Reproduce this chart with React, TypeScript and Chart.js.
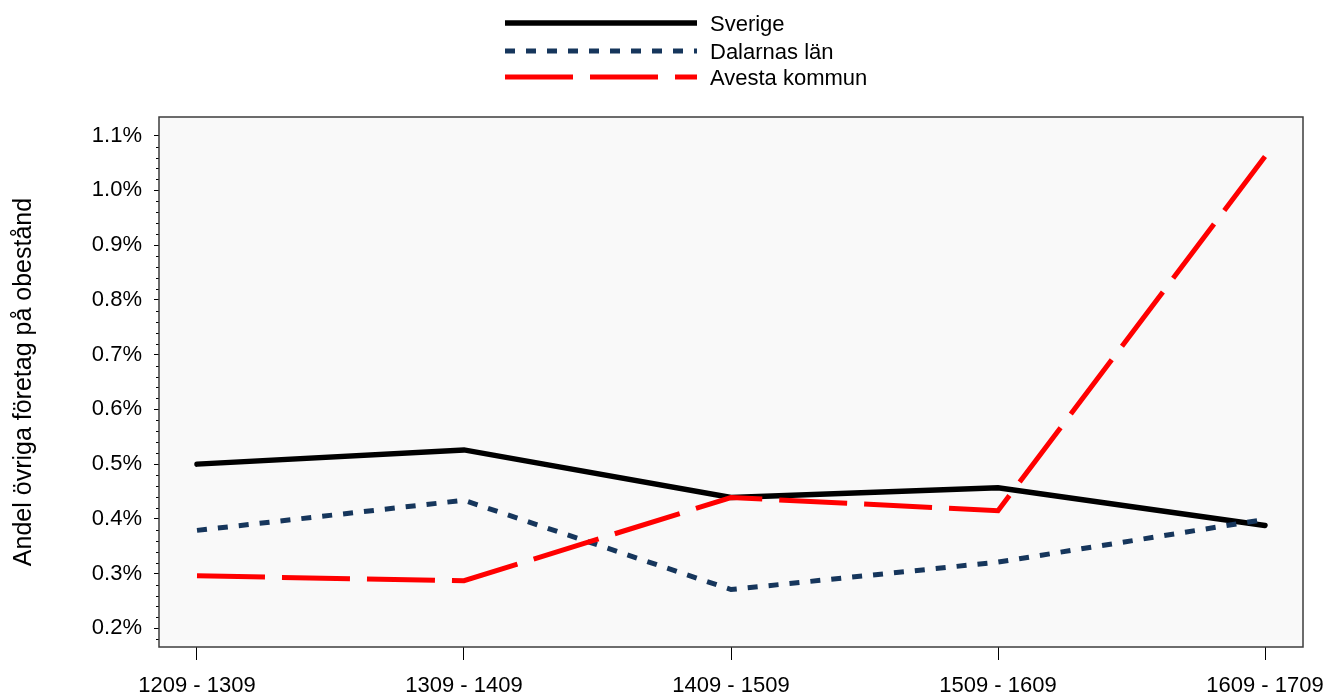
import React, { useEffect, useRef } from "react";
import { Chart, registerables } from "chart.js";

Chart.register(...registerables);

const categories = ["1209 - 1309", "1309 - 1409", "1409 - 1509", "1509 - 1609", "1609 - 1709"];
const sverige = [0.5, 0.526, 0.439, 0.457, 0.388];
const dalarna = [0.379, 0.434, 0.271, 0.321, 0.399];
const avesta = [0.296, 0.287, 0.439, 0.415, 1.062];
const yTicks = [0.2, 0.3, 0.4, 0.5, 0.6, 0.7, 0.8, 0.9, 1.0, 1.1];
const seriesNames = ["Sverige", "Dalarnas län", "Avesta kommun"];

const FONT = "'Liberation Sans', Arial, sans-serif";
const COL_BLACK = "#000000";
const COL_NAVY = "#16365C";
const COL_RED = "#FF0000";

const styles = [
  { color: COL_BLACK, width: 5.5, dash: [] as number[], cap: "round" as CanvasLineCap },
  { color: COL_NAVY, width: 5, dash: [10, 11], cap: "butt" as CanvasLineCap },
  { color: COL_RED, width: 5, dash: [68, 17], cap: "butt" as CanvasLineCap },
];

const plotPlugin = {
  id: "plotDecor",
  beforeDatasetsDraw(chart: any) {
    const { ctx, chartArea } = chart;
    ctx.save();
    ctx.fillStyle = "#F9F9F9";
    ctx.fillRect(chartArea.left, chartArea.top, chartArea.right - chartArea.left, chartArea.bottom - chartArea.top);
    ctx.restore();
  },
  afterDraw(chart: any) {
    const { ctx, chartArea } = chart;
    const y = chart.scales.y;
    ctx.save();
    ctx.strokeStyle = "#000";
    ctx.lineWidth = 1;
    const minor = (v: number) => {
      const py = Math.round(y.getPixelForValue(v)) + 0.5;
      ctx.beginPath();
      ctx.moveTo(chartArea.left - 3, py);
      ctx.lineTo(chartArea.left, py);
      ctx.stroke();
    };
    for (let i = 0; i < yTicks.length - 1; i++) {
      const a = yTicks[i];
      const b = yTicks[i + 1];
      for (let k = 1; k < 5; k++) minor(a + ((b - a) * k) / 5);
    }
    const step = yTicks[1] - yTicks[0];
    for (let k = 1; k < 5; k++) {
      const v = yTicks[0] - (step * k) / 5;
      if (v < y.min) break;
      minor(v);
    }
    // border
    ctx.strokeStyle = "#3C3C3C";
    ctx.lineWidth = 1.5;
    ctx.strokeRect(chartArea.left, chartArea.top, chartArea.right - chartArea.left, chartArea.bottom - chartArea.top);

    // legend
    const lx0 = 505;
    const lx1 = 697;
    const rows = [23, 51, 77];
    ctx.font = "22px " + FONT;
    ctx.textBaseline = "middle";
    ctx.textAlign = "left";
    for (let i = 0; i < 3; i++) {
      const s = styles[i];
      ctx.strokeStyle = s.color;
      ctx.lineWidth = s.width;
      ctx.lineCap = "butt";
      ctx.setLineDash(s.dash);
      ctx.beginPath();
      ctx.moveTo(lx0, rows[i]);
      ctx.lineTo(lx1, rows[i]);
      ctx.stroke();
      ctx.setLineDash([]);
      ctx.fillStyle = "#000";
      ctx.fillText(seriesNames[i], 710, rows[i] + 2);
    }
    ctx.restore();
  },
};

export default function App() {
  const ref = useRef<HTMLCanvasElement | null>(null);
  useEffect(() => {
    if (!ref.current) return;
    const seriesData = [sverige, dalarna, avesta];
    const chart = new Chart(ref.current, {
      type: "line",
      data: {
        datasets: seriesData.map((arr, i) => ({
          label: seriesNames[i],
          data: arr.map((v, j) => ({ x: j, y: v })),
          borderColor: styles[i].color,
          borderWidth: styles[i].width,
          borderDash: styles[i].dash,
          borderCapStyle: styles[i].cap,
          borderJoinStyle: "miter",
          pointRadius: 0,
          fill: false,
          tension: 0,
          order: 2 - i,
        })),
      },
      options: {
        animation: false,
        responsive: true,
        maintainAspectRatio: false,
        layout: { padding: { top: 117, right: 29, left: 0, bottom: 0 } },
        plugins: { legend: { display: false }, tooltip: { enabled: false } },
        scales: {
          x: {
            type: "linear",
            min: -0.1423,
            max: 4.1423,
            afterFit: (s: any) => {
              s.height = 51;
              s.paddingLeft = 0;
              s.paddingRight = 0;
            },
            afterBuildTicks: (s: any) => {
              s.ticks = categories.map((_, i) => ({ value: i }));
            },
            grid: { display: true, drawOnChartArea: false, drawTicks: true, tickLength: 13, color: "#000", lineWidth: 1 },
            border: { display: false },
            ticks: {
              autoSkip: false,
              maxRotation: 0,
              padding: 13,
              color: "#000",
              font: { family: FONT, size: 22 },
              callback: (v: any) => categories[Math.round(Number(v))] ?? "",
            },
          },
          y: {
            type: "linear",
            min: 0.166,
            max: 1.134,
            afterFit: (s: any) => {
              s.width = 159;
              s.paddingTop = 0;
              s.paddingBottom = 0;
            },
            afterBuildTicks: (s: any) => {
              s.ticks = yTicks.map((v) => ({ value: v }));
            },
            grid: { display: true, drawOnChartArea: false, drawTicks: true, tickLength: 5, color: "#000", lineWidth: 1 },
            border: { display: false },
            ticks: {
              padding: 12,
              color: "#000",
              font: { family: FONT, size: 22 },
              callback: (v: any) => Number(v).toFixed(1) + "%",
            },
            title: {
              display: true,
              text: "Andel övriga företag på obestånd",
              color: "#000",
              font: { family: FONT, size: 25 },
              padding: { top: 9, bottom: 0 },
            },
          },
        },
      },
      plugins: [plotPlugin],
    });
    return () => chart.destroy();
  }, []);
  return (
    <div style={{ position: "fixed", left: 0, top: 0, width: 1332, height: 698, background: "#fff" }}>
      <canvas ref={ref} />
    </div>
  );
}
